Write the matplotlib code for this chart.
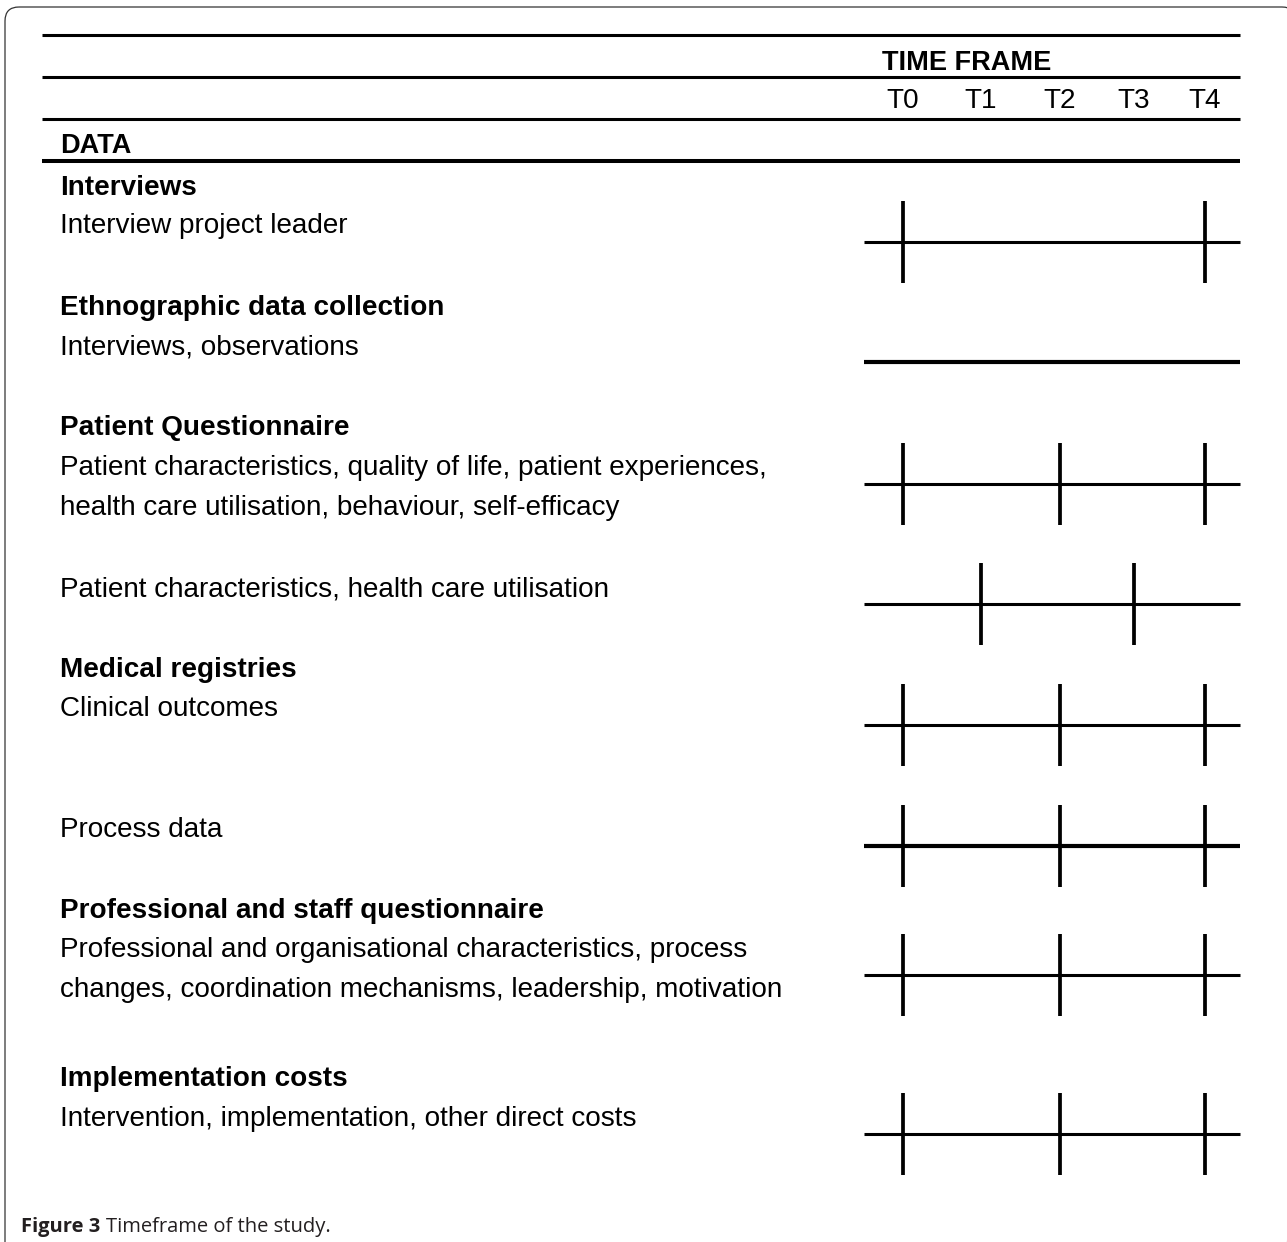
import matplotlib.pyplot as plt
from matplotlib.patches import FancyBboxPatch

# data
time_points = ["T0", "T1", "T2", "T3", "T4"]
headings = ["Interviews", "Ethnographic data collection", "Patient Questionnaire", "",
            "Medical registries", "", "Professional and staff questionnaire",
            "Implementation costs"]
descriptions = [
    "Interview project leader",
    "Interviews, observations",
    "Patient characteristics, quality of life, patient experiences,\nhealth care utilisation, behaviour, self-efficacy",
    "Patient characteristics, health care utilisation",
    "Clinical outcomes",
    "Process data",
    "Professional and organisational characteristics, process\nchanges, coordination mechanisms, leadership, motivation",
    "Intervention, implementation, other direct costs",
]
measured_at = [[0, 4], [], [0, 2, 4], [1, 3], [0, 2, 4], [0, 2, 4], [0, 2, 4], [0, 2, 4]]
continuous = [False, True, False, False, False, True, False, False]

# layout (pixels, y from top)
col_x = [903, 981, 1060, 1134, 1205]
head_y = [195, 315, 435, None, 677, None, 918, 1086]
desc_y = [233, 354, 475, 596, 716, 837, 957, 1126]
line_y = [242, 362, 484, 604, 725, 846, 975, 1134]
rules_y = [35, 77, 119, 161]

W, H = 1287, 1242
fig = plt.figure(figsize=(W / 100, H / 100), dpi=100)
ax = fig.add_axes([0, 0, 1, 1])
ax.set_xlim(0, W)
ax.set_ylim(H, 0)
ax.axis("off")

font = "Liberation Sans"
fs = 20.1

# frame (right and bottom edges fall outside the picture)
ax.add_patch(FancyBboxPatch((5, 7), 1291, 1300, boxstyle="round,pad=0,rounding_size=14",
                            fill=False, lw=0.9, ec="#333333"))

# header rules
for i, y in enumerate(rules_y):
    ax.plot([42, 1240], [y, y], color="black", lw=2.9 if i == 3 else 2.2,
            solid_capstyle="butt")

ax.text(882, 70, "TIME FRAME", fontsize=19.5, fontweight="bold", family=font, va="baseline")
for x, t in zip(col_x, time_points):
    ax.text(x, 108, t, fontsize=fs, family=font, ha="center", va="baseline")
ax.text(60, 153, "DATA", fontsize=19.5, fontweight="bold", family=font, va="baseline")

for i in range(len(descriptions)):
    if headings[i]:
        ax.text(60, head_y[i], headings[i], fontsize=fs, fontweight="bold",
                family=font, va="baseline")
    lines = descriptions[i].split("\n")
    for j, line in enumerate(lines):
        ax.text(60, desc_y[i] + 40 * j, line, fontsize=fs, family=font, va="baseline")
    y = line_y[i]
    ax.plot([864, 1240], [y, y], color="black", lw=3.0 if continuous[i] else 2.2,
            solid_capstyle="butt")
    for k in measured_at[i]:
        ax.plot([col_x[k], col_x[k]], [y - 41, y + 41], color="black", lw=2.7,
                solid_capstyle="butt")

# caption
cap_font = "Open Sans"
t1 = ax.text(21, 1232, "Figure 3", fontsize=14.5, fontweight="bold", family=cap_font,
             va="baseline", color="#231f20")
ax.annotate("Timeframe of the study.", xy=(1, 0), xycoords=t1, xytext=(4, 0),
            textcoords="offset points", va="bottom", ha="left", fontsize=14.5,
            family=cap_font, color="#231f20")

fig.savefig("out.png", dpi=100)
